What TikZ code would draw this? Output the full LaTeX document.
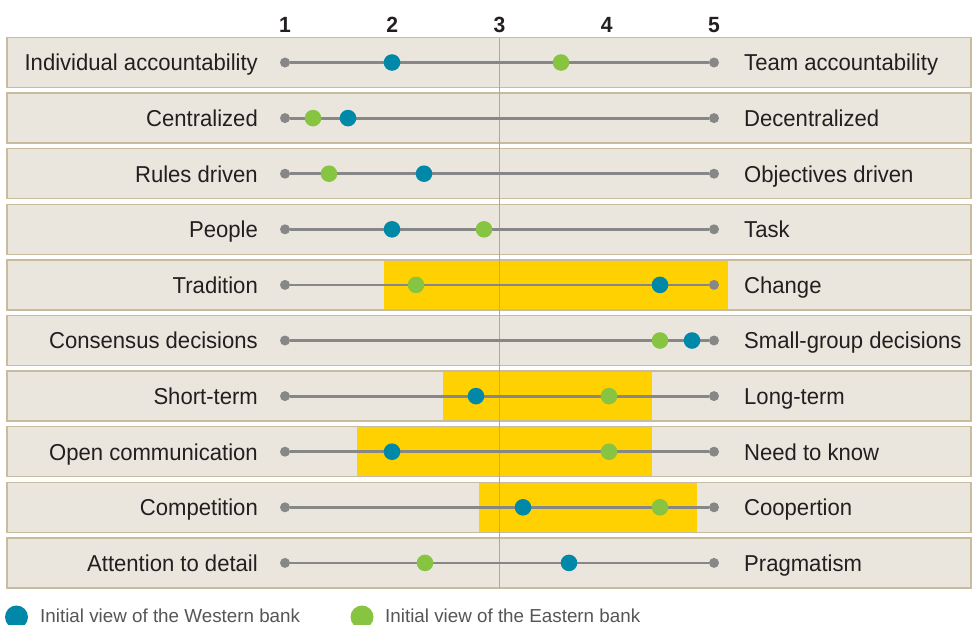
\documentclass[tikz,border=0pt]{standalone}
\usepackage{fontspec}
\setmainfont[FakeStretch=0.96]{Liberation Sans}
\newfontfamily\legendfont{Liberation Sans}
\definecolor{band}{HTML}{EBE6DD}
\definecolor{bandline}{HTML}{C8BB9E}
\definecolor{wblue}{HTML}{0088A8}
\definecolor{egreen}{HTML}{86C441}
\definecolor{hiyellow}{HTML}{FFD100}
\definecolor{scalegray}{HTML}{878787}
\definecolor{midgray}{HTML}{A9A9A9}
\definecolor{ink}{HTML}{231F20}
\definecolor{legendink}{HTML}{555555}
\begin{document}
\begin{tikzpicture}[x=1pt,y=-1pt,
 bandbox/.style={fill=band,draw=bandline,line width=1.3pt},
 hibox/.style={fill=hiyellow},
 enddot/.style={circle,fill=scalegray,inner sep=0pt,minimum size=10pt},
 wdot/.style={circle,fill=wblue,inner sep=0pt,minimum size=16.6pt},
 edot/.style={circle,fill=egreen,inner sep=0pt,minimum size=16.6pt},
 scaleline/.style={draw=scalegray,line width=2.8pt},
 midline/.style={draw=midgray,line width=1.2pt},
 leftlabel/.style={anchor=base east,inner sep=0pt,text=ink,font=\fontsize{23}{26}\selectfont},
 rightlabel/.style={anchor=base west,inner sep=0pt,text=ink,font=\fontsize{23}{26}\selectfont},
 numlabel/.style={anchor=base,inner sep=0pt,text=ink,font=\fontsize{22}{24}\selectfont\bfseries},
 legendtext/.style={anchor=base west,inner sep=0pt,text=legendink,font=\legendfont\fontsize{18.8}{21}\selectfont}]
\useasboundingbox (0,0) rectangle (972,624);
% bands
\foreach \i in {0,...,9}{
  \pgfmathsetmacro\yc{62.5+55.6*\i}
  \draw[bandbox] (7,\yc-25) rectangle (971,\yc+25);
}
% highlights
\foreach \i/\a/\b in {4/384/728,6/443/652,7/357/652,8/479/697}{
  \pgfmathsetmacro\yc{62.5+55.6*\i}
  \fill[hibox] (\a,\yc-24.3) rectangle (\b,\yc+24.3);
}
% middle line at 3
\coordinate (midtop) at (499.5,38);
\coordinate (midbot) at (499.5,588);
\draw[midline] (midtop) -- (midbot);
% scale numbers
\foreach \n in {1,...,5}{
  \node[numlabel] (n\n) at ({285+107.25*(\n-1)},32.5) {\n};
}
% rows
\foreach \i/\l/\r/\b/\g in {
  0/Individual accountability/Team accountability/392/561,
  1/Centralized/Decentralized/348/313,
  2/Rules driven/Objectives driven/424/329,
  3/People/Task/392/484,
  4/Tradition/Change/660/416,
  5/Consensus decisions/Small-group decisions/692/660,
  6/Short-term/Long-term/476/609,
  7/Open communication/Need to know/392/609,
  8/Competition/Coopertion/523/660,
  9/Attention to detail/Pragmatism/569/425}{
  \pgfmathsetmacro\yc{62.5+55.6*\i}
  \node[leftlabel] (L\i) at (258,\yc+8.3) {\l};
  \node[rightlabel] (R\i) at (744,\yc+8.3) {\r};
  \node[enddot] (s\i) at (285,\yc) {};
  \node[enddot] (e\i) at (714,\yc) {};
  \draw[scaleline] (s\i) -- (e\i);
  \node[wdot] (w\i) at (\b,\yc) {};
  \node[edot] (g\i) at (\g,\yc) {};
}
% legend
\node[circle,fill=wblue,inner sep=0pt,minimum size=23pt] (lw) at (16.5,617) {};
\node[legendtext] (lwt) at (40,622) {Initial view of the Western bank};
\node[circle,fill=egreen,inner sep=0pt,minimum size=23pt] (lg) at (362,617) {};
\node[legendtext] (lgt) at (385,622) {Initial view of the Eastern bank};
\end{tikzpicture}
\end{document}
